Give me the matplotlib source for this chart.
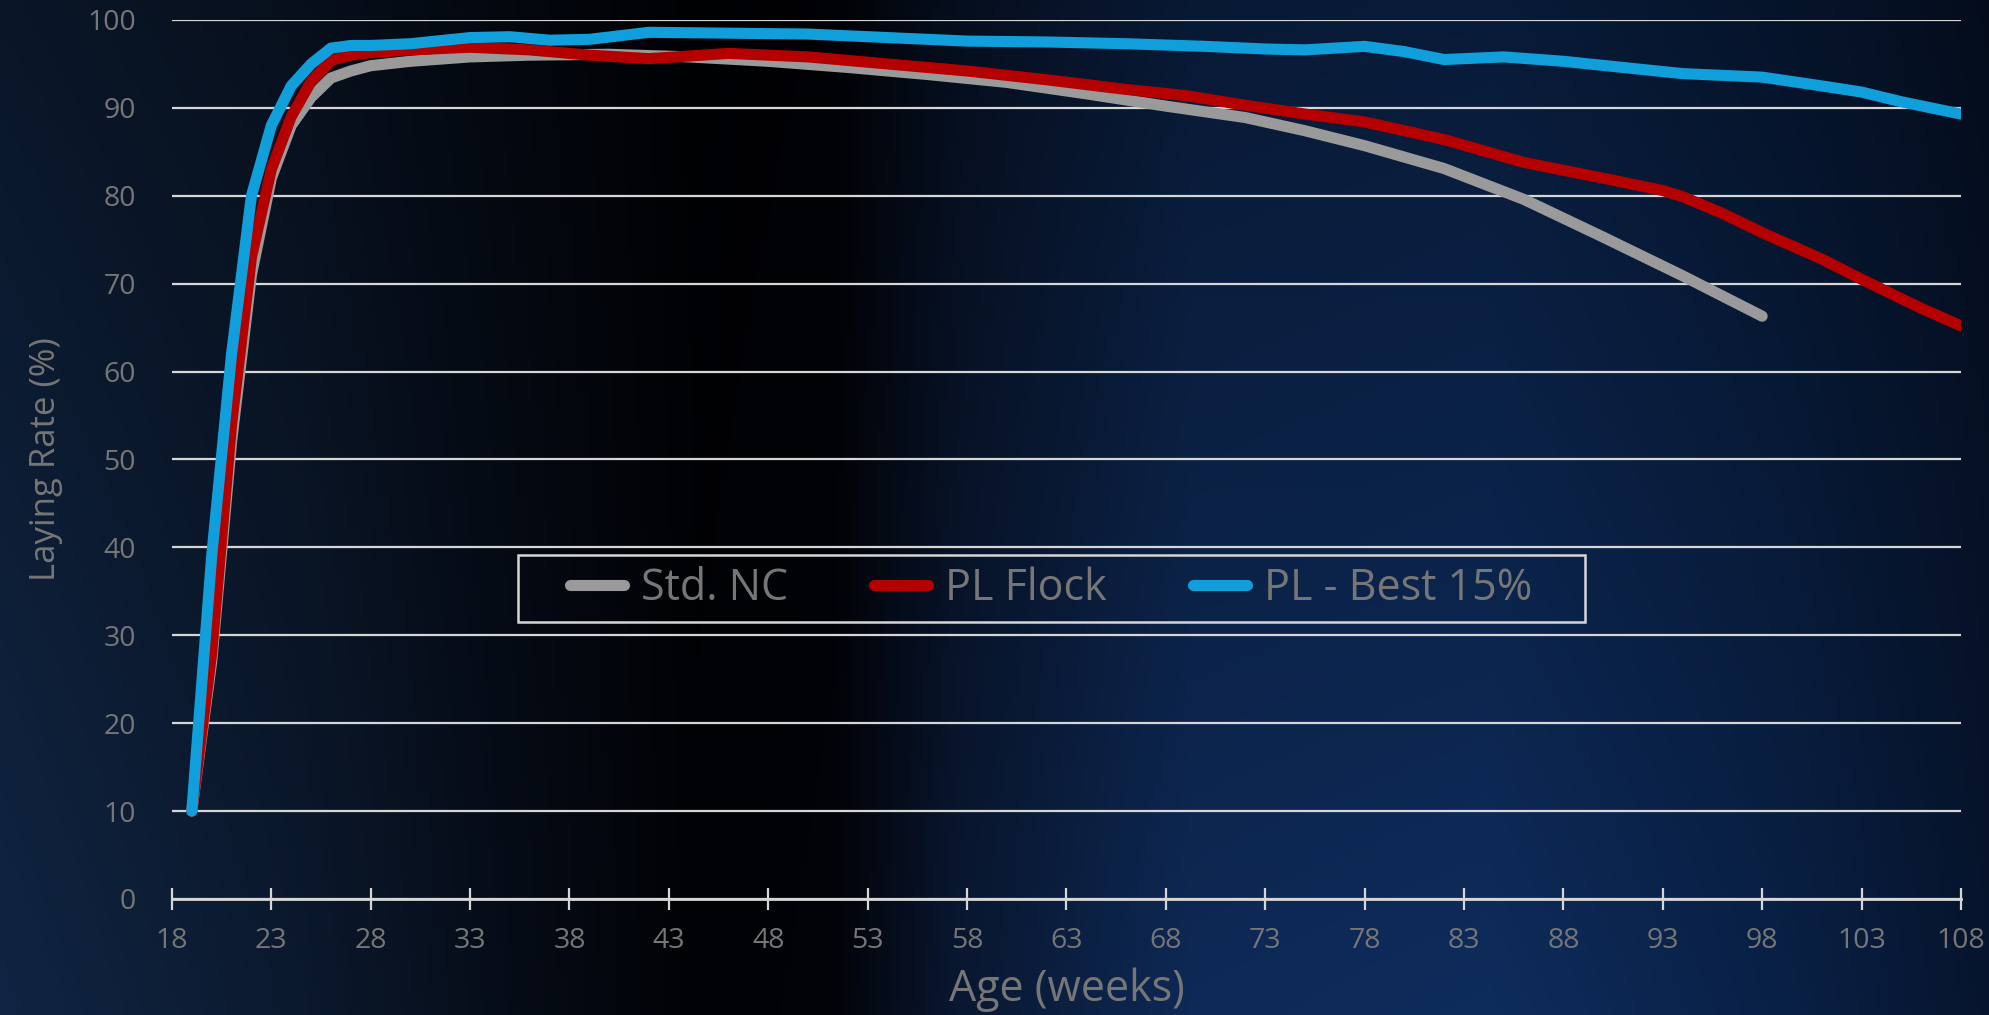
import numpy as np
import matplotlib.pyplot as plt
from matplotlib.patches import Rectangle

# --- data ---
weeks_std = [19, 20, 21, 22, 23, 24, 25, 26, 27, 28, 30, 33, 36, 40, 44, 48, 52,
             56, 60, 64, 68, 72, 75, 78, 82, 86, 90, 94, 98]
rate_std = [10, 27, 52, 71, 82, 88, 91.2, 93.4, 94.2, 94.8, 95.3, 95.8, 96.0, 96.1,
            95.8, 95.3, 94.6, 93.8, 92.9, 91.6, 90.2, 88.9, 87.4, 85.7, 83.1, 79.6,
            75.3, 70.9, 66.3]

weeks_pl = [19, 20, 21, 22, 23, 24, 25, 26, 27, 28, 30, 33, 36, 39, 42, 46, 50, 54,
            58, 62, 66, 69, 72, 75, 78, 82, 86, 90, 93, 94, 96, 98, 101, 103, 106, 108]
rate_pl = [10, 28, 54, 73, 83, 89, 93, 95.4, 96.0, 96.3, 96.6, 96.9, 96.6, 96.0,
           95.6, 96.2, 95.8, 95.0, 94.2, 93.2, 92.1, 91.4, 90.3, 89.3, 88.4, 86.4,
           83.8, 82.0, 80.6, 79.9, 78.0, 75.8, 72.8, 70.5, 67.2, 65.2]

weeks_best = [19, 20, 21, 22, 23, 24, 25, 26, 27, 28, 30, 33, 35, 37, 39, 42, 46, 50,
              54, 58, 62, 66, 70, 73, 75, 78, 80, 82, 85, 88, 91, 94, 98, 101, 103,
              105, 108]
rate_best = [10, 39, 62, 80, 88, 92.5, 95, 96.8, 97.1, 97.1, 97.3, 98.0, 98.1, 97.7,
             97.8, 98.6, 98.5, 98.4, 98.0, 97.6, 97.5, 97.3, 97.0, 96.7, 96.6, 97.0,
             96.4, 95.5, 95.8, 95.3, 94.6, 93.9, 93.5, 92.5, 91.8, 90.7, 89.3]

series_names = ['Std. NC', 'PL Flock', 'PL - Best 15%']
series_colors = ['#9a9a9a', '#b50000', '#109fdb']
x_ticks = list(range(18, 109, 5))
y_ticks = list(range(0, 101, 10))

label_gray = '#767676'
grid_col = '#d6d6d6'
font = 'Open Sans'

fig = plt.figure(figsize=(19.9, 10.15), dpi=100)

# starry-night style background as a plain gradient
bg = fig.add_axes([0, 0, 1, 1])
bg.set_axis_off()
stops = [0.0, 0.15, 0.28, 0.35, 0.42, 0.48, 0.6, 0.75, 0.9, 1.0]
cols = np.array([(14, 32, 58), (10, 22, 40), (4, 8, 16), (1, 2, 5), (2, 3, 8),
                 (8, 20, 42), (12, 36, 75), (12, 38, 80), (8, 28, 60), (6, 18, 40)]) / 255
xs = np.linspace(0, 1, 400)
row = np.stack([np.interp(xs, stops, cols[:, i]) for i in range(3)], axis=1)
ys = np.linspace(0, 1, 200)[:, None, None]
img = row[None, :, :] * (0.7 + 0.45 * ys)
bg.imshow(np.clip(img, 0, 1), aspect='auto', extent=[0, 1, 0, 1], origin='upper')

ax = fig.add_axes([0.0864, 0.1143, 0.8990, 0.8660])
ax.patch.set_alpha(0)

data = [(weeks_std, rate_std), (weeks_pl, rate_pl), (weeks_best, rate_best)]
for (wk, rate), name, col in zip(data, series_names, series_colors):
    ax.plot(wk, rate, color=col, lw=8, label=name, solid_capstyle='round',
            solid_joinstyle='round', zorder=3)

ax.set_xlim(18, 108)
ax.set_ylim(0, 100)
ax.set_xticks(x_ticks)
ax.set_yticks(y_ticks)
ax.yaxis.grid(True, color=grid_col, lw=1.6)
ax.set_axisbelow(True)

for s in ['top', 'right', 'left']:
    ax.spines[s].set_visible(False)
ax.spines['bottom'].set_color(grid_col)
ax.spines['bottom'].set_linewidth(2)

ax.tick_params(axis='x', direction='inout', length=16, width=1.6, color=grid_col,
               pad=12, labelcolor=label_gray)
ax.tick_params(axis='y', length=0, pad=26, labelcolor=label_gray)
for t in ax.get_xticklabels() + ax.get_yticklabels():
    t.set_fontfamily(font)
    t.set_fontsize(20.5)

ax.set_xlabel('Age (weeks)', family=font, fontsize=31, color=label_gray)
ax.xaxis.set_label_coords(0.5, -0.078)
ax.set_ylabel('Laying Rate (%)', family=font, fontsize=25, color=label_gray)
ax.yaxis.set_label_coords(-0.061, 0.5)

# legend: entries without frame, box drawn as a separate rectangle
leg = ax.legend(loc='center', bbox_to_anchor=(0.4915, 0.353), ncol=3, frameon=False,
                prop={'family': font, 'size': 31}, handlelength=1.25,
                columnspacing=2.0, handletextpad=0.4, borderpad=0.2)
for t in leg.get_texts():
    t.set_color(label_gray)
ax.add_patch(Rectangle((0.1935, 0.315), 0.5965, 0.076, transform=ax.transAxes,
                       fill=False, edgecolor=grid_col, lw=1.8, zorder=4))

fig.savefig('out.png', dpi=100)
